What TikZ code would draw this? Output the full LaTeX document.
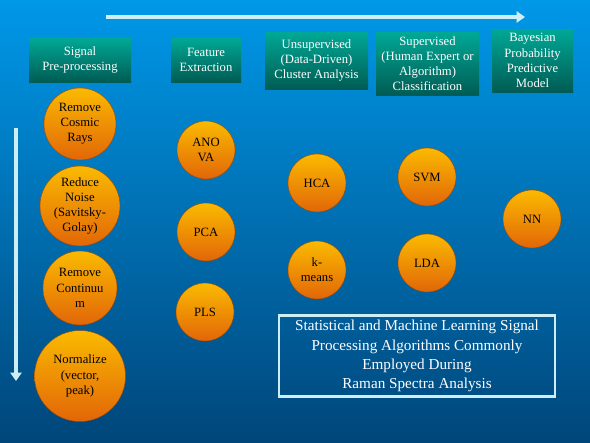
\documentclass[tikz,border=0pt]{standalone}
\usepackage{fontspec}
\setmainfont{Liberation Serif}
\usetikzlibrary{arrows.meta}

\definecolor{skytop}{RGB}{0,152,232}
\definecolor{skybot}{RGB}{0,70,122}
\definecolor{tealtop}{RGB}{0,168,150}
\definecolor{tealbot}{RGB}{0,92,84}
\definecolor{orgtop}{RGB}{250,186,0}
\definecolor{orgbot}{RGB}{226,102,8}
\definecolor{pale}{RGB}{205,238,245}

\begin{document}
\begin{tikzpicture}[x=0.025cm,y=-0.025cm,
	head/.style={top color=tealtop,bottom color=tealbot,text=white,align=center,
		font=\fontsize{9}{10.8}\selectfont,inner sep=0pt},
	ball/.style={circle,top color=orgtop,bottom color=orgbot,draw=orgbot!70!black,
		line width=.3pt,align=center,inner sep=0pt,minimum size=#1,
		font=\fontsize{9}{10.8}\selectfont},
	ball/.default=58*0.025cm]
			\shade[top color=skytop,bottom color=skybot] (0,0) rectangle (590,442);
			
			% flow arrows
			\coordinate (h0) at (106,17); \coordinate (h1) at (525,17);
			\draw [pale,line width=2.2pt,-{Triangle[width=8pt,length=6pt]}] (h0) -- (h1);
			\coordinate (v0) at (16,128); \coordinate (v1) at (16,381);
			\draw [pale,line width=2.2pt,-{Triangle[width=8pt,length=6pt]}] (v0) -- (v1);
			
			% column heads
			\node [head,minimum width=102*0.025cm,minimum height=44*0.025cm] (pre) at (80,60) {Signal\\Pre-processing};
			\node [head,minimum width=70*0.025cm,minimum height=44*0.025cm] (feat) at (206,60) {Feature\\Extraction};
			\node [head,minimum width=103*0.025cm,minimum height=57*0.025cm] (unsup) at (316.5,60.5) {Unsupervised\\(Data-Driven)\\Cluster Analysis};
			\node [head,minimum width=103*0.025cm,minimum height=63*0.025cm] (sup) at (427.5,63.5) {Supervised\\(Human Expert or\\Algorithm)\\Classification};
			\node [head,minimum width=81*0.025cm,minimum height=63*0.025cm] (bayes) at (532.5,60.5) {Bayesian\\Probability\\Predictive\\Model};
			
			% pre-processing steps
			\node [ball=72*0.025cm] (cosmic) at (80,124) {Remove\\Cosmic\\Rays};
			\node [ball=80*0.025cm] (noise) at (80,206) {Reduce\\Noise\\(Savitsky-\\Golay)};
			\node [ball=74*0.025cm] (cont) at (80,288) {Remove\\Continuu\\m};
			\node [ball=91*0.025cm] (norm) at (80,376) {Normalize\\(vector,\\peak)};
			
			% algorithms
			\node [ball] (anova) at (206,150) {ANO\\VA};
			\node [ball] (pca) at (206,232) {PCA};
			\node [ball] (pls) at (205,312) {PLS};
			\node [ball] (hca) at (317,183) {HCA};
			\node [ball] (kmeans) at (317,270) {k-\\means};
			\node [ball] (svm) at (427,177) {SVM};
			\node [ball] (lda) at (427,263) {LDA};
			\node [ball] (nn) at (532,219) {NN};
			
			\node [draw=pale,line width=2pt,text=white,align=center,
				minimum width=276*0.025cm,minimum height=81*0.025cm,
				font=\fontsize{10.8}{13.6}\selectfont] (title) at (417,356)
				{Statistical and Machine Learning Signal\\Processing Algorithms Commonly\\Employed During\\Raman Spectra Analysis};
\end{tikzpicture}
\end{document}
